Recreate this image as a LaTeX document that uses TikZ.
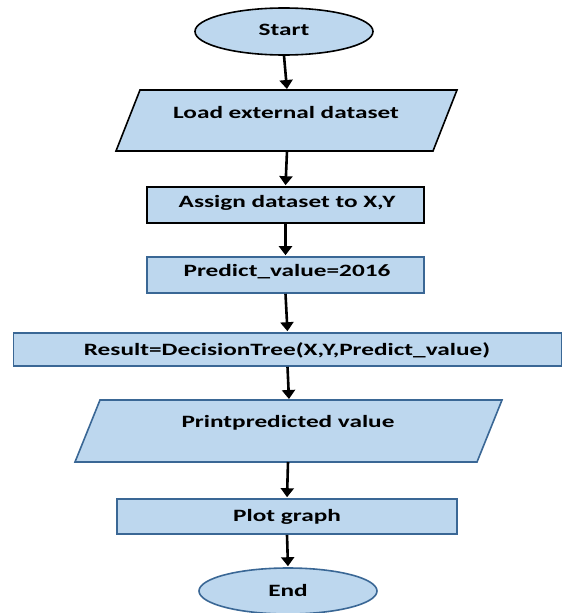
\documentclass[tikz,border=0pt]{standalone}
\usepackage{fontspec}
\setmainfont{Carlito}
\usetikzlibrary{arrows.meta,shapes.geometric}
\definecolor{boxfill}{HTML}{BDD7EE}
\definecolor{boxblue}{HTML}{3A6795}
\newcommand{\wtxt}[1]{\scalebox{1.46}[1]{#1}}
\tikzset{
  lbl/.style={font=\bfseries\fontsize{17.3}{20}\selectfont, text=black, inner sep=0pt},
  shapeblk/.style={draw=black, fill=boxfill, line width=1.6pt},
  shapeblu/.style={draw=boxblue, fill=boxfill, line width=1.6pt},
  flow/.style={line width=2.6pt, -{Triangle[width=13pt,length=9pt]}, shorten >=1pt},
}
\begin{document}
\begin{tikzpicture}[x=1pt,y=-1pt]
\useasboundingbox (0,0) rectangle (563,613);
% Start
\node[shapeblk, ellipse, minimum width=178pt, minimum height=47pt, inner sep=0pt] (start) at (284,31.5) {};
\node[lbl] (tstart) at (284,30) {\wtxt{Start}};
% Load
\draw[shapeblk] (140,90) -- (457,90) -- (433,151) -- (116,151) -- cycle;
\coordinate (loadT) at (287,90);
\coordinate (loadB) at (287,151);
\node[lbl] (tload) at (286,112) {\wtxt{Load external dataset}};
% Assign
\node[shapeblk, rectangle, minimum width=277pt, minimum height=36pt, inner sep=0pt] (assign) at (285.5,205) {};
\node[lbl] (tassign) at (287,203) {\wtxt{Assign dataset to X,Y}};
% Predict
\node[shapeblu, rectangle, minimum width=277pt, minimum height=36pt, inner sep=0pt] (pred) at (285.5,275) {};
\node[lbl] (tpred) at (287,272) {\wtxt{Predict\_value=2016}};
% Result
\node[shapeblu, rectangle, minimum width=548pt, minimum height=33pt, inner sep=0pt] (res) at (287.5,349.5) {};
\node[lbl] (tres) at (287,350) {\wtxt{Result=DecisionTree(X,Y,Predict\_value)}};
% Print
\draw[shapeblu] (100,400) -- (502,400) -- (477,462) -- (75,462) -- cycle;
\coordinate (printT) at (289,400);
\coordinate (printB) at (288,462);
\node[lbl] (tprint) at (288,423) {\wtxt{Printpredicted value}};
% Plot
\node[shapeblu, rectangle, minimum width=340pt, minimum height=35pt, inner sep=0pt] (plot) at (287,516.5) {};
\node[lbl] (tplot) at (287,517) {\wtxt{Plot graph}};
% End
\node[shapeblu, ellipse, minimum width=178pt, minimum height=46pt, inner sep=0pt] (endn) at (288,591) {};
\node[lbl] (tend) at (288,590) {\wtxt{End}};
% arrows
\draw[flow] (start.south) -- (loadT);
\draw[flow] (loadB) -- (assign.north);
\draw[flow] (assign.south) -- (pred.north);
\draw[flow] (pred.south) -- (res.north);
\draw[flow] (res.south) -- (printT);
\draw[flow] (printB) -- (plot.north);
\draw[flow] (plot.south) -- (endn.north);
\end{tikzpicture}
\end{document}
